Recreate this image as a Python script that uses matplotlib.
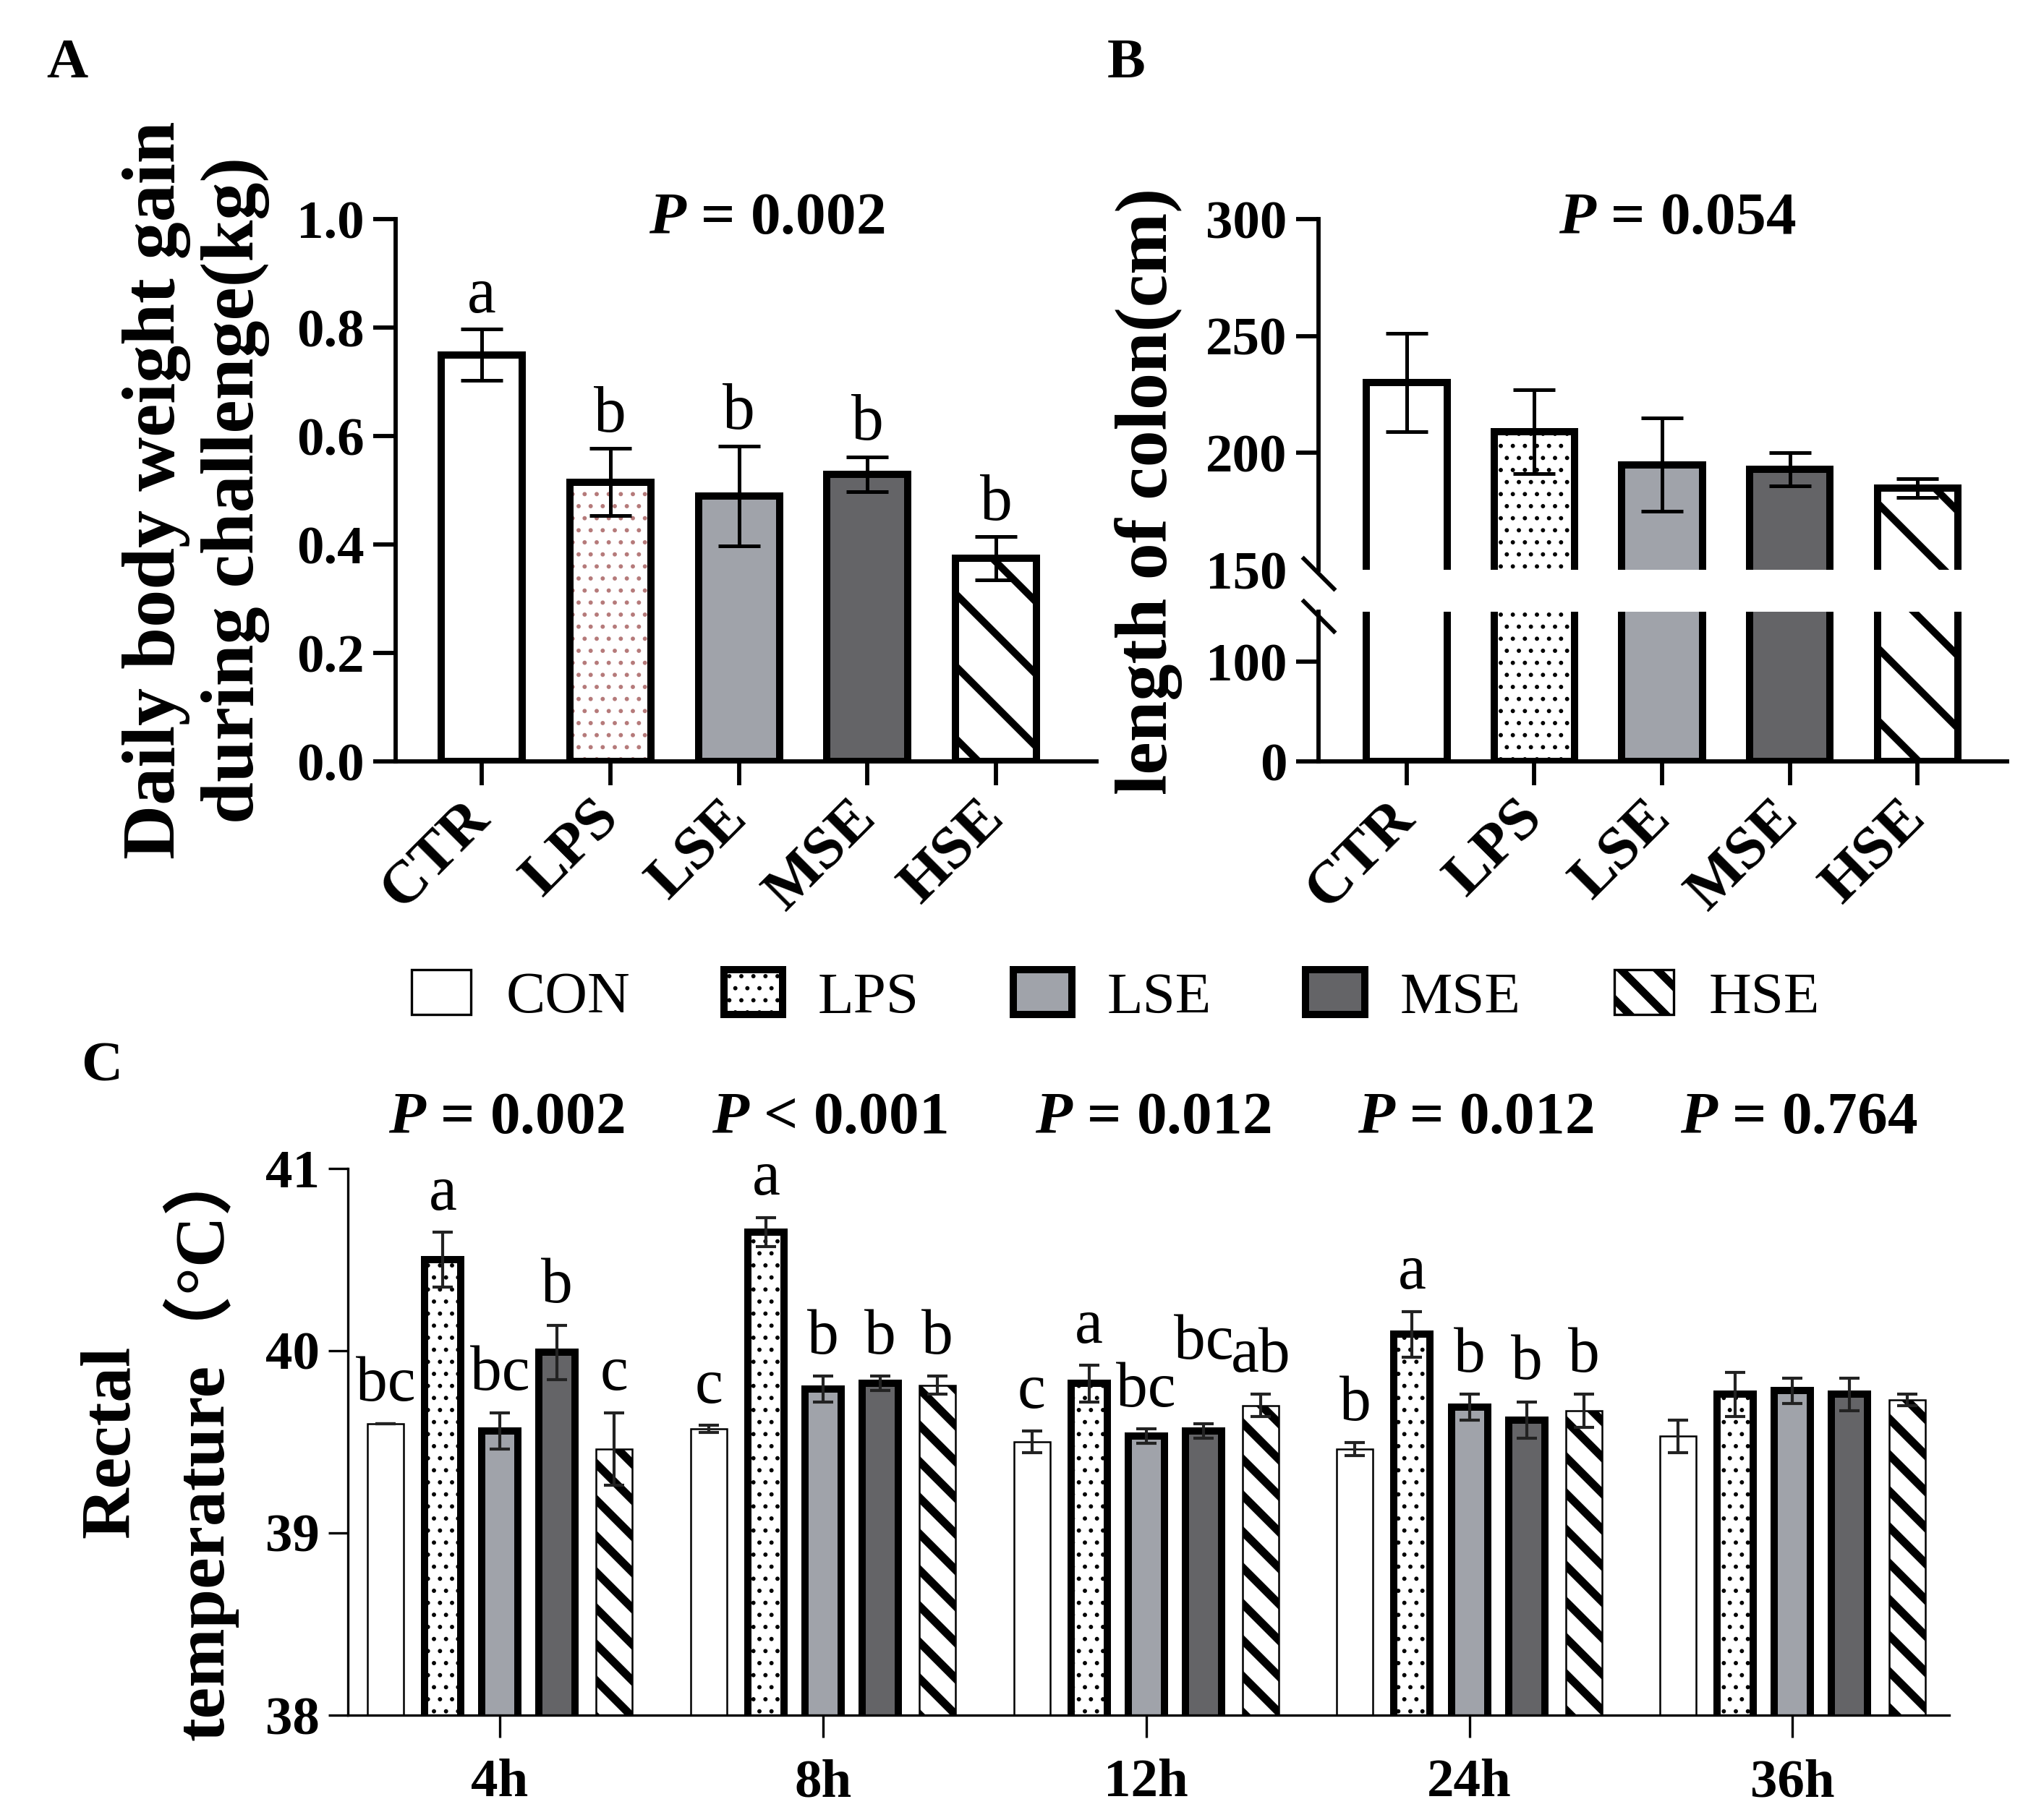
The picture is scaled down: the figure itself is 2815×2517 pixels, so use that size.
import matplotlib as mpl
import matplotlib.pyplot as plt
from matplotlib.patches import Patch
from matplotlib.transforms import blended_transform_factory
import numpy as np

plt.rcParams['font.family'] = ['Liberation Serif', 'DejaVu Serif']
plt.rcParams['mathtext.fontset'] = 'custom'
plt.rcParams['mathtext.rm'] = 'Liberation Serif'
plt.rcParams['mathtext.it'] = 'Liberation Serif:italic'
plt.rcParams['mathtext.bf'] = 'Liberation Serif:bold'
plt.rcParams['mathtext.bfit'] = 'Liberation Serif:italic:bold'

# ---- data ----
groups_ab = ['CTR', 'LPS', 'LSE', 'MSE', 'HSE']
legend_names = ['CON', 'LPS', 'LSE', 'MSE', 'HSE']

gain = [0.75, 0.515, 0.49, 0.53, 0.375]
gain_err = [0.047, 0.062, 0.092, 0.032, 0.04]
gain_letters = ['a', 'b', 'b', 'b', 'b']
gain_p = '= 0.002'

colon = [230, 209, 195, 193, 185]
colon_err = [21, 18, 20, 7, 4]
colon_p = '= 0.054'

times = ['4h', '8h', '12h', '24h', '36h']
temp_con = [39.60, 39.57, 39.50, 39.46, 39.53]
temp_lps = [40.50, 40.65, 39.82, 40.09, 39.76]
temp_lse = [39.56, 39.79, 39.53, 39.69, 39.78]
temp_mse = [39.99, 39.82, 39.56, 39.62, 39.76]
temp_hse = [39.46, 39.81, 39.70, 39.67, 39.73]
err_con = [0.0, 0.02, 0.06, 0.035, 0.09]
err_lps = [0.15, 0.08, 0.10, 0.125, 0.12]
err_lse = [0.10, 0.07, 0.04, 0.07, 0.07]
err_mse = [0.15, 0.04, 0.04, 0.10, 0.09]
err_hse = [0.20, 0.05, 0.06, 0.09, 0.03]
let_con = ['bc', 'c', 'c', 'b', '']
let_lps = ['a', 'a', 'a', 'a', '']
let_lse = ['bc', 'b', 'bc', 'b', '']
let_mse = ['b', 'b', 'bc', 'b', '']
let_hse = ['c', 'b', 'ab', 'b', '']
temp_p = ['= 0.002', '< 0.001', '= 0.012', '= 0.012', '= 0.764']

# ---- styles per treatment ----
GRAY1 = '#a0a3aa'
GRAY2 = '#646467'
styles = [
    dict(face='white', hatch=None, hcolor='black', hlw=1.0),
    dict(face='white', hatch='...', hcolor='black', hlw=0.6),
    dict(face=GRAY1, hatch=None, hcolor='black', hlw=1.0),
    dict(face=GRAY2, hatch=None, hcolor='black', hlw=1.0),
    dict(face='white', hatch='\\', hcolor='black', hlw=2.4),
]


def hatch_lw(artist, lw):
    # hatch linewidth is global in matplotlib, so apply it while drawing
    if hasattr(artist, 'set_hatch_linewidth'):
        artist.set_hatch_linewidth(lw)
    orig = artist.draw

    def draw(renderer, _orig=orig, _lw=lw):
        with mpl.rc_context({'hatch.linewidth': _lw}):
            _orig(renderer)
    artist.draw = draw


def draw_bars(ax, x, h, w, st, edge_lw, hcolor=None, hatch=None):
    hc = hcolor or st['hcolor']
    fill = ax.bar(x, h, w, color=st['face'], edgecolor=hc,
                  hatch=hatch or st['hatch'], linewidth=0, zorder=2)
    for p in fill:
        hatch_lw(p, st['hlw'])
    ax.bar(x, h, w, fill=False, edgecolor='black', linewidth=edge_lw, zorder=3)


def p_label(txt):
    return r'$\mathbfit{P}$ ' + txt


fig = plt.figure(figsize=(2815 / 300, 2517 / 300), dpi=300)

TICK = 18

# ---------------- panel A ----------------
axA = fig.add_axes([0.1943, 0.5816, 0.3442, 0.2980])
xa = np.arange(len(groups_ab))
for i in range(len(groups_ab)):
    hc = '#b57a7a' if i == 1 else None
    draw_bars(axA, xa[i], gain[i], 0.63, styles[i], 2.4, hcolor=hc)
axA.errorbar(xa, gain, yerr=gain_err, fmt='none', ecolor='black',
             elinewidth=1.2, capsize=7, capthick=1.2, zorder=4)
for i in range(len(groups_ab)):
    axA.annotate(gain_letters[i], (xa[i], gain[i] + gain_err[i]),
                 xytext=(0, 1), textcoords='offset points',
                 ha='center', va='bottom', fontsize=21.5)
axA.set_xlim(-0.67, 4.78)
axA.set_ylim(0, 1.0)
axA.set_yticks(np.arange(0, 1.01, 0.2))
axA.set_yticklabels(['%.1f' % v for v in np.arange(0, 1.01, 0.2)],
                    fontweight='bold')
axA.set_xticks(xa)
axA.set_xticklabels(groups_ab, rotation=45, ha='right', va='center',
                    rotation_mode='anchor', fontweight='bold', fontsize=20)
axA.tick_params(axis='y', length=7.4, width=1.4, pad=3, labelsize=TICK)
axA.tick_params(axis='x', length=8, width=1.4, pad=8)
for s in ['top', 'right']:
    axA.spines[s].set_visible(False)
for s in ['left', 'bottom']:
    axA.spines[s].set_linewidth(1.4)
axA.set_ylabel('Daily body weight gain\nduring challenge(kg)', fontsize=25,
               fontweight='bold', va='center')
axA.yaxis.set_label_coords(-0.285, 0.5)
axA.text(0.53, 1.0, p_label(gain_p), transform=axA.transAxes, ha='center',
         va='center', fontsize=20, fontweight='bold')

# ---------------- panel B (broken axis) ----------------
axB_lo = fig.add_axes([0.6476, 0.5816, 0.3382, 0.0823])
axB_hi = fig.add_axes([0.6476, 0.6869, 0.3382, 0.1927])
xb = np.arange(len(groups_ab))
for ax in (axB_lo, axB_hi):
    for i in range(len(groups_ab)):
        draw_bars(ax, xb[i], colon[i], 0.63, styles[i], 2.4)
    ax.errorbar(xb, colon, yerr=colon_err, fmt='none', ecolor='black',
                elinewidth=1.2, capsize=7, capthick=1.2, zorder=4)
    ax.set_xlim(-0.69, 4.70)
    for s in ['top', 'right']:
        ax.spines[s].set_visible(False)
    for s in ['left', 'bottom']:
        ax.spines[s].set_linewidth(1.4)
    ax.tick_params(axis='y', length=7.4, width=1.4, pad=3, labelsize=TICK)

axB_lo.set_ylim(0, 150)
axB_lo.set_yticks([0, 100])
axB_lo.set_yticklabels(['0', '100'], fontweight='bold')
axB_lo.set_xticks(xb)
axB_lo.set_xticklabels(groups_ab, rotation=45, ha='right', va='center',
                       rotation_mode='anchor', fontweight='bold', fontsize=20)
axB_lo.tick_params(axis='x', length=8, width=1.4, pad=8)

axB_hi.set_ylim(150, 300)
axB_hi.set_yticks([150, 200, 250, 300])
axB_hi.set_yticklabels(['150', '200', '250', '300'], fontweight='bold')
axB_hi.yaxis.get_major_ticks()[0].tick1line.set_visible(False)
axB_hi.spines['bottom'].set_visible(False)
axB_hi.set_xticks([])

brk = dict(marker=[(-1, 1), (1, -1)], markersize=11, linestyle='none',
           color='black', mec='black', mew=1.4, clip_on=False)
axB_hi.plot([0], [-0.01], transform=axB_hi.transAxes, **brk)
axB_lo.plot([0], [0.97], transform=axB_lo.transAxes, **brk)

axB_hi.text(0.521, 1.0, p_label(colon_p), transform=axB_hi.transAxes,
            ha='center', va='center', fontsize=20, fontweight='bold')
fig.text(0.564, 0.730, 'length of colon(cm)', rotation=90, ha='center',
         va='center', fontsize=24.5, fontweight='bold')

# ---------------- panel C ----------------
axC = fig.add_axes([0.1709, 0.0576, 0.7865, 0.3004])
xc = np.arange(len(times))
series = [temp_con, temp_lps, temp_lse, temp_mse, temp_hse]
errs = [err_con, err_lps, err_lse, err_mse, err_hse]
lets = [let_con, let_lps, let_lse, let_mse, let_hse]
edge_c = [0.6, 2.4, 2.4, 2.4, 0.6]
step, bw = 0.177, 0.112
lift = {(2, 3): 14}
for k in range(5):
    xs = xc + (k - 2) * step
    st = dict(styles[k])
    if k == 4:
        st['hlw'] = 2.7
    draw_bars(axC, xs, series[k], bw, st, edge_c[k],
              hatch='\\\\' if k == 4 else None)
    axC.errorbar(xs, series[k], yerr=errs[k], fmt='none', ecolor='#222222',
                 elinewidth=1.0, capsize=3.3, capthick=1.0, zorder=4)
    for g in range(len(times)):
        if lets[k][g]:
            axC.annotate(lets[k][g], (xs[g], series[k][g] + errs[k][g]),
                         xytext=(0, 3 + lift.get((g, k), 0)),
                         textcoords='offset points', ha='center',
                         va='bottom', fontsize=21)
axC.set_xlim(-0.47, 4.485)
axC.set_ylim(38, 41)
axC.set_yticks([38, 39, 40, 41])
axC.set_yticklabels(['38', '39', '40', '41'], fontweight='bold')
axC.set_xticks(xc)
axC.set_xticklabels(times, fontweight='bold')
axC.tick_params(axis='y', length=6.4, width=0.8, pad=3, labelsize=TICK)
axC.tick_params(axis='x', length=7.5, width=0.8, pad=7, labelsize=TICK)
for s in ['top', 'right']:
    axC.spines[s].set_visible(False)
for s in ['left', 'bottom']:
    axC.spines[s].set_linewidth(0.8)
axC.set_ylabel('Rectal\ntemperature（°C）', fontsize=23.5, fontweight='bold',
               va='center', linespacing=1.3,
               family=['Liberation Serif', 'Noto Sans CJK SC'])
axC.yaxis.set_label_coords(-0.118, 0.5)
trC = blended_transform_factory(axC.transData, axC.transAxes)
for g in range(len(times)):
    axC.text(xc[g] + 0.02, 1.09, p_label(temp_p[g]), transform=trC,
             ha='center', va='center', fontsize=20, fontweight='bold')

# ---------------- legend ----------------
handles = []
leg_edge = [0.8, 2.4, 2.4, 2.4, 0.8]
leg_hatch = [None, '...', None, None, '\\\\']
for k in range(5):
    st = styles[k]
    handles.append(Patch(facecolor=st['face'], edgecolor='black',
                         hatch=leg_hatch[k], linewidth=leg_edge[k]))
leg = fig.legend(handles, legend_names, loc='center',
                 bbox_to_anchor=(0.548, 0.452), ncol=5, frameon=False,
                 fontsize=19.5, handlelength=1.0, handleheight=0.8,
                 handletextpad=0.6, columnspacing=1.6)
leg_handles = getattr(leg, 'legend_handles', None) or leg.legendHandles
for k, h in enumerate(leg_handles):
    hatch_lw(h, styles[k]['hlw'] if k != 4 else 2.6)

# ---------------- panel letters ----------------
fig.text(0.033, 0.965, 'A', fontsize=19, fontweight='bold', ha='center',
         va='center')
fig.text(0.553, 0.965, 'B', fontsize=19, fontweight='bold', ha='center',
         va='center')
fig.text(0.050, 0.4136, 'C', fontsize=19, fontweight='bold', ha='center',
         va='center')

fig.savefig('out.png', dpi=300)
